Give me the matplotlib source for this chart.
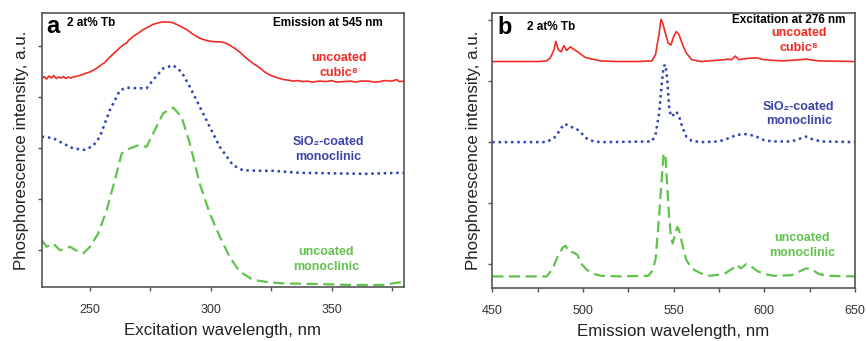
import numpy as np
import matplotlib
matplotlib.use("Agg")
import matplotlib.pyplot as plt
from matplotlib.ticker import MultipleLocator

plt.rcParams['font.family'] = ['Liberation Sans', 'DejaVu Sans']

# ---- panel a: excitation spectra (emission at 545 nm) ----
exc_cubic_x = [230, 231, 232, 233, 234, 235, 236, 237, 238, 239, 240, 241, 242, 243, 245, 247,
               248, 250, 252, 253, 255, 256, 258, 260, 262, 264, 265, 266, 268, 270, 272,
               274, 276, 278, 280, 282, 284, 286, 288, 290, 292, 294, 296, 298, 300, 302,
               304, 306, 308, 310, 312, 314, 316, 318, 320, 322, 324, 326, 328, 330, 332,
               334, 336, 338, 340, 342, 345, 348, 350, 352, 355, 358, 360, 362, 365, 368,
               370, 372, 375, 377, 378, 380]
exc_cubic_y = [4.09, 4.13, 4.08, 4.14, 4.10, 4.15, 4.09, 4.12, 4.10, 4.13, 4.09, 4.12, 4.10,
               4.12, 4.14, 4.17, 4.19, 4.22, 4.27, 4.30, 4.37, 4.40, 4.50, 4.59, 4.68, 4.76,
               4.78, 4.84, 4.92, 4.98, 5.05, 5.10, 5.15, 5.18, 5.20, 5.20, 5.19, 5.15, 5.10,
               5.05, 4.98, 4.92, 4.87, 4.84, 4.82, 4.81, 4.81, 4.79, 4.74, 4.68, 4.61, 4.52,
               4.44, 4.37, 4.31, 4.23, 4.17, 4.13, 4.10, 4.07, 4.06, 4.04, 4.05, 4.03, 4.04,
               4.02, 4.04, 4.03, 4.05, 4.02, 4.03, 4.04, 4.02, 4.04, 4.04, 4.02, 4.03, 4.05,
               4.04, 4.07, 4.03, 4.04]

exc_sio2_x = [230, 234.8, 238.3, 243, 247.9, 251.3, 254.1, 258.2, 262.4, 265.1, 269.3, 273.4,
              276.1, 280.3, 284.4, 287.9, 291.3, 295.4, 299.6, 303.7, 309.2, 313.3, 320.2,
              325.7, 336.7, 350.5, 364.3, 378, 380]
exc_sio2_y = [2.95, 2.92, 2.83, 2.72, 2.69, 2.77, 2.95, 3.47, 3.86, 3.91, 3.90, 3.90, 4.06,
              4.29, 4.35, 4.22, 3.93, 3.54, 3.14, 2.75, 2.39, 2.29, 2.28, 2.28, 2.24, 2.23,
              2.22, 2.24, 2.24]

exc_mono_x = [230, 232, 234.8, 237.6, 241.7, 244.5, 247.2, 250, 253.4, 256.9, 260.3, 263.1,
              266.5, 270, 273.4, 276.1, 280.3, 284.4, 287.9, 291.3, 295.4, 299.6, 303.7,
              307.8, 312, 317.5, 323, 329.9, 343.6, 357.4, 371.2, 378, 380]
exc_mono_y = [0.92, 0.79, 0.85, 0.72, 0.79, 0.71, 0.66, 0.79, 1.05, 1.51, 2.10, 2.62, 2.72,
              2.78, 2.75, 3.01, 3.41, 3.52, 3.34, 2.82, 2.03, 1.44, 0.99, 0.59, 0.30, 0.14,
              0.10, 0.07, 0.06, 0.04, 0.04, 0.09, 0.10]

# ---- panel b: emission spectra (excitation at 276 nm) ----
em_cubic_x = [450, 475, 480, 482, 484, 485, 486.5, 488, 489.5, 491, 493, 495, 498, 501, 505,
              510, 520, 530, 538, 540, 542, 543, 544, 545.5, 547, 548.5, 550, 551.5, 553,
              555, 557, 560, 565, 578, 580, 582, 584, 586, 590, 596, 600, 610, 620, 623,
              630, 650]
em_cubic_y = [3.71, 3.71, 3.72, 3.77, 3.90, 4.04, 3.90, 3.87, 3.97, 3.89, 3.95, 3.91, 3.85,
              3.78, 3.75, 3.72, 3.71, 3.71, 3.72, 3.82, 4.17, 4.40, 4.34, 4.17, 4.01, 3.98,
              4.12, 4.20, 4.15, 3.98, 3.85, 3.74, 3.71, 3.74, 3.75, 3.74, 3.80, 3.74, 3.76,
              3.77, 3.74, 3.72, 3.74, 3.75, 3.72, 3.71]

em_sio2_x = [450, 480, 485, 488, 490, 493, 496, 499, 502, 506, 510, 538, 540, 542, 543.5,
             544.5, 545.5, 546.5, 547.5, 548.5, 550, 551.5, 553, 555, 557, 560, 565, 575,
             580, 585, 590, 595, 600, 605, 615, 620, 623, 627, 632, 650]
em_sio2_y = [2.39, 2.39, 2.48, 2.62, 2.69, 2.64, 2.62, 2.54, 2.45, 2.40, 2.39, 2.40, 2.51,
             2.86, 3.36, 3.63, 3.66, 3.41, 2.97, 2.81, 2.84, 2.89, 2.81, 2.62, 2.48, 2.41,
             2.39, 2.40, 2.45, 2.51, 2.52, 2.49, 2.42, 2.40, 2.40, 2.45, 2.48, 2.43, 2.40,
             2.39]

em_mono_x = [450, 480, 483, 486, 489, 490.5, 492, 495, 497, 499, 502, 506, 510, 520, 536,
             538, 540, 542, 543.5, 544.5, 545.5, 546.5, 547.5, 548.5, 549.5, 551, 552, 553,
             555, 557, 560, 565, 570, 578, 582, 585, 587, 590, 593, 596, 600, 605, 615, 620,
             623, 626, 630, 635, 650]
em_mono_y = [0.19, 0.19, 0.30, 0.51, 0.67, 0.69, 0.60, 0.58, 0.54, 0.40, 0.30, 0.23, 0.20,
             0.19, 0.20, 0.27, 0.46, 1.17, 1.82, 2.21, 2.15, 1.66, 1.17, 0.84, 0.73, 0.90,
             1.00, 0.95, 0.69, 0.46, 0.32, 0.24, 0.20, 0.23, 0.31, 0.38, 0.32, 0.39, 0.35,
             0.28, 0.23, 0.20, 0.21, 0.28, 0.32, 0.31, 0.23, 0.20, 0.19]

RED = '#f22b24'
BLUE = '#2f45b5'
GREEN = '#62c24e'
FRAME = '#555555'

fig = plt.figure(figsize=(8.67, 3.41), dpi=100)
ax_a = fig.add_axes([0.0481, 0.1584, 0.4179, 0.8026])
ax_b = fig.add_axes([0.5678, 0.1554, 0.4183, 0.8056])


def style_axes(ax, xlim, ylim, yticks, xlabel, ylabel_x):
    ax.set_xlim(*xlim)
    ax.set_ylim(*ylim)
    ax.xaxis.set_major_locator(MultipleLocator(50))
    ax.xaxis.set_minor_locator(MultipleLocator(25))
    ax.set_yticks(yticks)
    ax.set_yticklabels([])
    ax.tick_params(axis='both', which='both', direction='out', length=3, width=1,
                   color=FRAME, top=False, right=False)
    ax.tick_params(axis='x', which='major', labelsize=9, pad=9, labelcolor='#333333')
    for s in ax.spines.values():
        s.set_color(FRAME)
        s.set_linewidth(1.2)
    ax.set_xlabel(xlabel, fontsize=12.2, labelpad=5, color='#222222')
    ax.set_ylabel('Phosphorescence intensity, a.u.', fontsize=12.2, color='#222222')
    ax.yaxis.set_label_coords(ylabel_x, 0.5)


lab = dict(fontsize=9, fontweight='bold', ha='center', va='center', linespacing=1.3)

# panel a
ax_a.plot(exc_cubic_x, exc_cubic_y, color=RED, lw=1.2)
ax_a.plot(exc_sio2_x, exc_sio2_y, color=BLUE, lw=1.8, linestyle=(0, (1, 1.5)))
ax_a.plot(exc_mono_x, exc_mono_y, color=GREEN, lw=1.6, linestyle=(0, (5, 2.5)))
style_axes(ax_a, (230, 380), (0, 5.37), [0.725, 1.725, 2.725, 3.725, 4.725],
           'Excitation wavelength, nm', -0.036)

ax_a.text(0.012, 0.952, 'a', transform=ax_a.transAxes, fontsize=17, fontweight='bold',
          va='center', ha='left')
ax_a.text(0.07, 0.965, '2 at% Tb', transform=ax_a.transAxes, fontsize=8.5,
          fontweight='bold', va='center', ha='left')
ax_a.text(0.94, 0.965, 'Emission at 545 nm', transform=ax_a.transAxes, fontsize=8.5,
          fontweight='bold', va='center', ha='right')
ax_a.text(0.82, 0.809, 'uncoated\ncubic\u2078', transform=ax_a.transAxes, color=RED, **lab)
ax_a.text(0.79, 0.502, 'SiO\u2082-coated\nmonoclinic', transform=ax_a.transAxes,
          color='#3a44a8', **lab)
ax_a.text(0.785, 0.10, 'uncoated\nmonoclinic', transform=ax_a.transAxes, color=GREEN, **lab)

# panel b
ax_b.plot(em_cubic_x, em_cubic_y, color=RED, lw=1.2)
ax_b.plot(em_sio2_x, em_sio2_y, color=BLUE, lw=1.8, linestyle=(0, (1, 1.5)))
ax_b.plot(em_mono_x, em_mono_y, color=GREEN, lw=1.6, linestyle=(0, (5, 2.5)))
style_axes(ax_b, (450, 650), (0, 4.50), [0.39, 1.39, 2.39, 3.39, 4.39],
           'Emission wavelength, nm', -0.032)

ax_b.text(0.014, 0.948, 'b', transform=ax_b.transAxes, fontsize=17, fontweight='bold',
          va='center', ha='left')
ax_b.text(0.095, 0.95, '2 at% Tb', transform=ax_b.transAxes, fontsize=8.5,
          fontweight='bold', va='center', ha='left')
ax_b.text(0.975, 0.975, 'Excitation at 276 nm', transform=ax_b.transAxes, fontsize=8.5,
          fontweight='bold', va='center', ha='right')
ax_b.text(0.845, 0.90, 'uncoated\ncubic\u2078', transform=ax_b.transAxes, color=RED, **lab)
ax_b.text(0.845, 0.633, 'SiO\u2082-coated\nmonoclinic', transform=ax_b.transAxes,
          color='#3a44a8', **lab)
ax_b.text(0.855, 0.155, 'uncoated\nmonoclinic', transform=ax_b.transAxes, color=GREEN, **lab)

fig.savefig('out.png', dpi=100)
